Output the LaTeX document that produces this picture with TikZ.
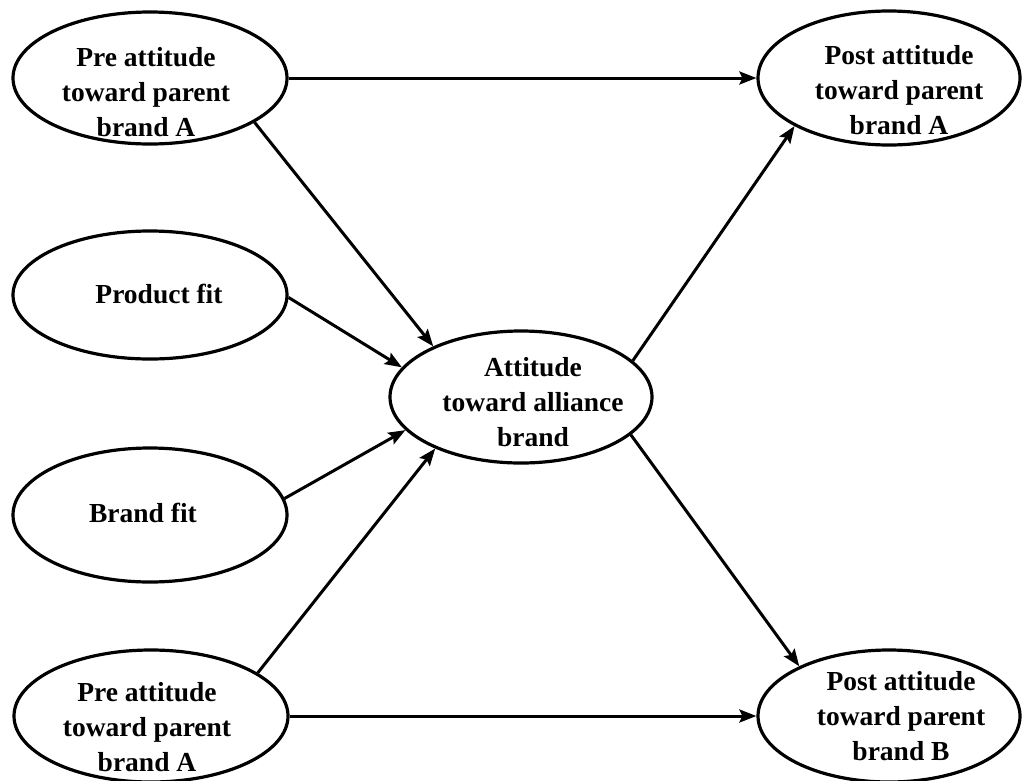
\documentclass[tikz,border=0pt]{standalone}
\usepackage{fontspec}
\setmainfont{Liberation Serif}
\usetikzlibrary{arrows.meta,shapes.geometric}
\begin{document}
\begin{tikzpicture}[x=1pt,y=-1pt,
  oval/.style={ellipse, draw, line width=3.2pt, inner sep=0pt,
    minimum width=#1},
  oval/.default=274pt,
  caption/.style={align=center, inner sep=0pt,
    font=\bfseries\fontsize{27.5}{35}\selectfont},
  arr/.style={line width=3pt,
    -{Stealth[length=17pt,width=13pt,inset=3pt]}}]
\useasboundingbox (0,0) rectangle (1022,780);

% latent constructs
\node[oval, minimum height=132pt] (preA) at (150,78) {};
\node[oval, minimum height=128pt] (prod) at (150,295) {};
\node[oval, minimum height=134pt] (brand) at (150,515) {};
\node[oval, minimum height=132pt] (preB) at (151,716) {};
\node[oval=262pt, minimum height=132pt] (ctr) at (521,397) {};
\node[oval=262pt, minimum height=134pt] (postA) at (889,78) {};
\node[oval=262pt, minimum height=132pt] (postB) at (889,716) {};

% labels
\node[caption] (preAt) at (146,92) {Pre attitude\\toward parent\\brand A};
\node[caption] (prodt) at (159,294) {Product fit};
\node[caption] (brandt) at (143,513) {Brand fit};
\node[caption] (preBt) at (147,727) {Pre attitude\\toward parent\\brand A};
\node[caption] (ctrt) at (533,402) {Attitude\\toward alliance\\brand};
\node[caption] (postAt) at (899,90) {Post attitude\\toward parent\\brand A};
\node[caption] (postBt) at (901,716) {Post attitude\\toward parent\\brand B};

% paths
\draw[arr] (preA) -- (postA);
\draw[arr] (preB) -- (postB);
\draw[arr] (preA.-23.7) -- (ctr.150);
\draw[arr] (prod.-1) -- (ctr.166);
\draw[arr] (brand.7) -- (ctr.196);
\draw[arr] (preB.22) -- (ctr.211.5);
\draw[arr] (ctr.18.4) -- (postA.207.5);
\draw[arr] (ctr.-19.3) -- (postB.151);
\end{tikzpicture}
\end{document}
